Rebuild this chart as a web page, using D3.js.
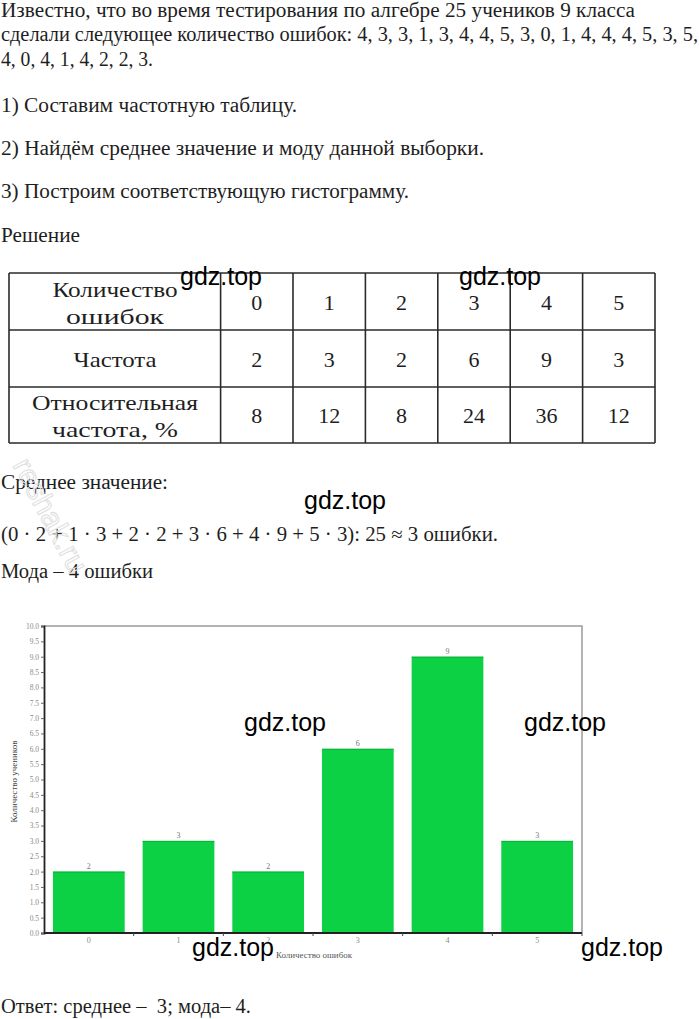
<!DOCTYPE html>
<html>
<head>
<meta charset="utf-8">
<script src="https://cdn.jsdelivr.net/npm/d3@7"></script>
<style>
  html, body { margin: 0; padding: 0; background: #fff; }
  svg { display: block; }
</style>
</head>
<body>
<script>
// ---------- DATA ----------
const errorCounts = [0, 1, 2, 3, 4, 5];
const frequencies = [2, 3, 2, 6, 9, 3];
const relativeFreq = [8, 12, 8, 24, 36, 12];
const yTicks = [0, 0.5, 1, 1.5, 2, 2.5, 3, 3.5, 4, 4.5, 5, 5.5, 6, 6.5, 7, 7.5, 8, 8.5, 9, 9.5, 10];
const introLines = [
  "Известно, что во время тестирования по алгебре 25 учеников 9 класса",
  "сделали следующее количество ошибок: 4, 3, 3, 1, 3, 4, 4, 5, 3, 0, 1, 4, 4, 4, 5, 3, 5,",
  "4, 0, 4, 1, 4, 2, 2, 3.",
  "1) Составим частотную таблицу.",
  "2) Найдём среднее значение и моду данной выборки.",
  "3) Построим соответствующую гистограмму.",
  "Решение"
];
const solutionLines = [
  "Среднее значение:",
  "(0 · 2 + 1 · 3 + 2 · 2 + 3 · 6 + 4 · 9 + 5 · 3): 25 ≈ 3 ошибки.",
  "Мода – 4 ошибки"
];
const answerLine = "Ответ: среднее –  3; мода– 4.";
const rowHeaders = [["Количество", "ошибок"], ["Частота"], ["Относительная", "частота, %"]];
const yAxisTitle = "Количество учеников";
const xAxisTitle = "Количество ошибок";
const watermark = "gdz.top";

// ---------- LAYOUT ----------
const W = 699, H = 1019;
const serif = "'Liberation Serif', 'Times New Roman', serif";
const sans = "'Liberation Sans', Arial, sans-serif";
const textColor = "#1e1e1e";

const svg = d3.select("body").append("svg").attr("width", W).attr("height", H);
svg.append("rect").attr("width", W).attr("height", H).attr("fill", "#fff");

function line(txt, x, y, len, size, anchor) {
  const t = svg.append("text")
    .attr("x", x).attr("y", y)
    .attr("font-family", serif)
    .attr("font-size", size || 20)
    .attr("fill", textColor)
    .attr("text-anchor", anchor || "start")
    .style("white-space", "pre")
    .text(txt);
  if (len) t.attr("textLength", len).attr("lengthAdjust", "spacingAndGlyphs");
  return t;
}

// intro text
const introY = [17, 41, 66, 112, 155, 198, 242];
const introW = [634, 697, 152, 296, 483, 408, 79];
introLines.forEach((s, i) => line(s, 1, introY[i], introW[i]));

// ---------- TABLE ----------
const tableLeft = 9, tableRight = 655;
const colX = d3.scaleBand().domain(errorCounts).range([220.6, tableRight]);
const rowEdges = [273, 330, 387, 443];
const tbl = svg.append("g");
const lineStyle = s => s.attr("stroke", "#2a2a2a").attr("stroke-width", 1.6);
rowEdges.forEach(y => lineStyle(tbl.append("line").attr("x1", tableLeft).attr("x2", tableRight).attr("y1", y).attr("y2", y)));
[tableLeft, 220.6].concat(errorCounts.map(c => colX(c) + colX.bandwidth())).forEach(x =>
  lineStyle(tbl.append("line").attr("x1", x).attr("x2", x).attr("y1", rowEdges[0]).attr("y2", rowEdges[3])));

const rowCenter = i => (rowEdges[i] + rowEdges[i + 1]) / 2;
const headerW = [[125, 98], [83], [166, 126]];
rowHeaders.forEach((lines, i) => {
  const c = rowCenter(i);
  lines.forEach((s, j) => {
    const y = lines.length === 1 ? c + 8 : c - 13 + 8 + j * 27;
    line(s, 115, y, headerW[i][j], 22, "middle");
  });
});
const tableRows = [errorCounts, frequencies, relativeFreq];
tableRows.forEach((vals, i) => {
  vals.forEach((v, k) => {
    line(String(v), colX(errorCounts[k]) + colX.bandwidth() / 2, rowCenter(i) + 8, null, 22, "middle");
  });
});

// solution text
const solY = [489, 541, 578];
const solW = [167, 497, 152];
solutionLines.forEach((s, i) => line(s, 1, solY[i], solW[i]));
line(answerLine, 1, 1013, 250);

// ---------- CHART ----------
const plot = { left: 44, right: 582, top: 626, bottom: 933 };
const x = d3.scaleBand().domain(errorCounts).range([plot.left, plot.right]).paddingInner(0.2).paddingOuter(0.1);
const y = d3.scaleLinear().domain([0, 10]).range([plot.bottom, plot.top]);

const chart = svg.append("g");
chart.append("path")
  .attr("d", `M${plot.left},${plot.top}H${plot.right}V${plot.bottom}`)
  .attr("fill", "none").attr("stroke", "#9a9a9a").attr("stroke-width", 1.5);

chart.selectAll("rect.bar").data(frequencies).join("rect")
  .attr("class", "bar")
  .attr("x", (d, i) => x(errorCounts[i]))
  .attr("width", x.bandwidth())
  .attr("y", d => y(d))
  .attr("height", d => y(0) - y(d))
  .attr("fill", "#0dd145");
chart.selectAll("line.bartop").data(frequencies).join("line")
  .attr("class", "bartop")
  .attr("x1", (d, i) => x(errorCounts[i]))
  .attr("x2", (d, i) => x(errorCounts[i]) + x.bandwidth())
  .attr("y1", d => y(d) + 0.5).attr("y2", d => y(d) + 0.5)
  .attr("stroke", "#0bb03a").attr("stroke-width", 1);

chart.selectAll("text.val").data(frequencies).join("text")
  .attr("class", "val")
  .attr("x", (d, i) => x(errorCounts[i]) + x.bandwidth() / 2)
  .attr("y", d => y(d) - 3)
  .attr("text-anchor", "middle")
  .attr("font-family", serif).attr("font-size", 8).attr("fill", "#777")
  .text(d => d);

const yAxis = d3.axisLeft(y).tickValues(yTicks).tickFormat(d3.format(".1f")).tickSize(3).tickPadding(2);
const gy = chart.append("g").attr("transform", `translate(${plot.left},0)`).call(yAxis);
gy.select(".domain").attr("stroke", "#222").attr("stroke-width", 1.8);
gy.selectAll(".tick line").attr("stroke", "#666");
gy.selectAll(".tick text").attr("font-family", serif).attr("font-size", 7.5).attr("fill", "#8a8a8a");

const xEdge = d3.scaleLinear().domain([0, errorCounts.length]).range([plot.left, plot.right]);
const gx = chart.append("g").attr("transform", `translate(0,${plot.bottom})`);
gx.append("line").attr("x1", plot.left).attr("x2", plot.right).attr("y1", 0).attr("y2", 0)
  .attr("stroke", "#222").attr("stroke-width", 1.8);
gx.selectAll("line.tk").data(d3.range(1, errorCounts.length + 1)).join("line")
  .attr("class", "tk")
  .attr("x1", d => xEdge(d)).attr("x2", d => xEdge(d)).attr("y1", 0).attr("y2", 3)
  .attr("stroke", "#444");
gx.selectAll("text").data(errorCounts).join("text")
  .attr("x", d => x(d) + x.bandwidth() / 2)
  .attr("y", 10)
  .attr("text-anchor", "middle")
  .attr("font-family", serif).attr("font-size", 8).attr("fill", "#8a8a8a")
  .text(d => d);

chart.append("text")
  .attr("transform", `translate(17,${(740 + 823) / 2}) rotate(-90)`)
  .attr("text-anchor", "middle")
  .attr("font-family", serif).attr("font-size", 7.5).attr("fill", "#444")
  .attr("textLength", 82).attr("lengthAdjust", "spacingAndGlyphs")
  .text(yAxisTitle);
chart.append("text")
  .attr("x", 276).attr("y", 958)
  .attr("font-family", serif).attr("font-size", 8).attr("fill", "#555")
  .attr("textLength", 76).attr("lengthAdjust", "spacingAndGlyphs")
  .text(xAxisTitle);

// ---------- WATERMARKS ----------
const marks = [[180, 285], [459, 285], [304, 509], [244, 731], [524, 731], [192, 956], [581, 956]];
marks.forEach(([mx, my]) => {
  svg.append("text").attr("x", mx).attr("y", my)
    .attr("font-family", sans).attr("font-size", 25).attr("fill", "#000")
    .attr("textLength", 82).attr("lengthAdjust", "spacingAndGlyphs")
    .text(watermark);
});
svg.append("text")
  .attr("transform", "translate(12,465) rotate(62)")
  .attr("font-family", sans).attr("font-size", 30)
  .attr("fill", "none").attr("stroke", "#dedede").attr("stroke-width", 1)
  .text("reshak.ru");
</script>
</body>
</html>
